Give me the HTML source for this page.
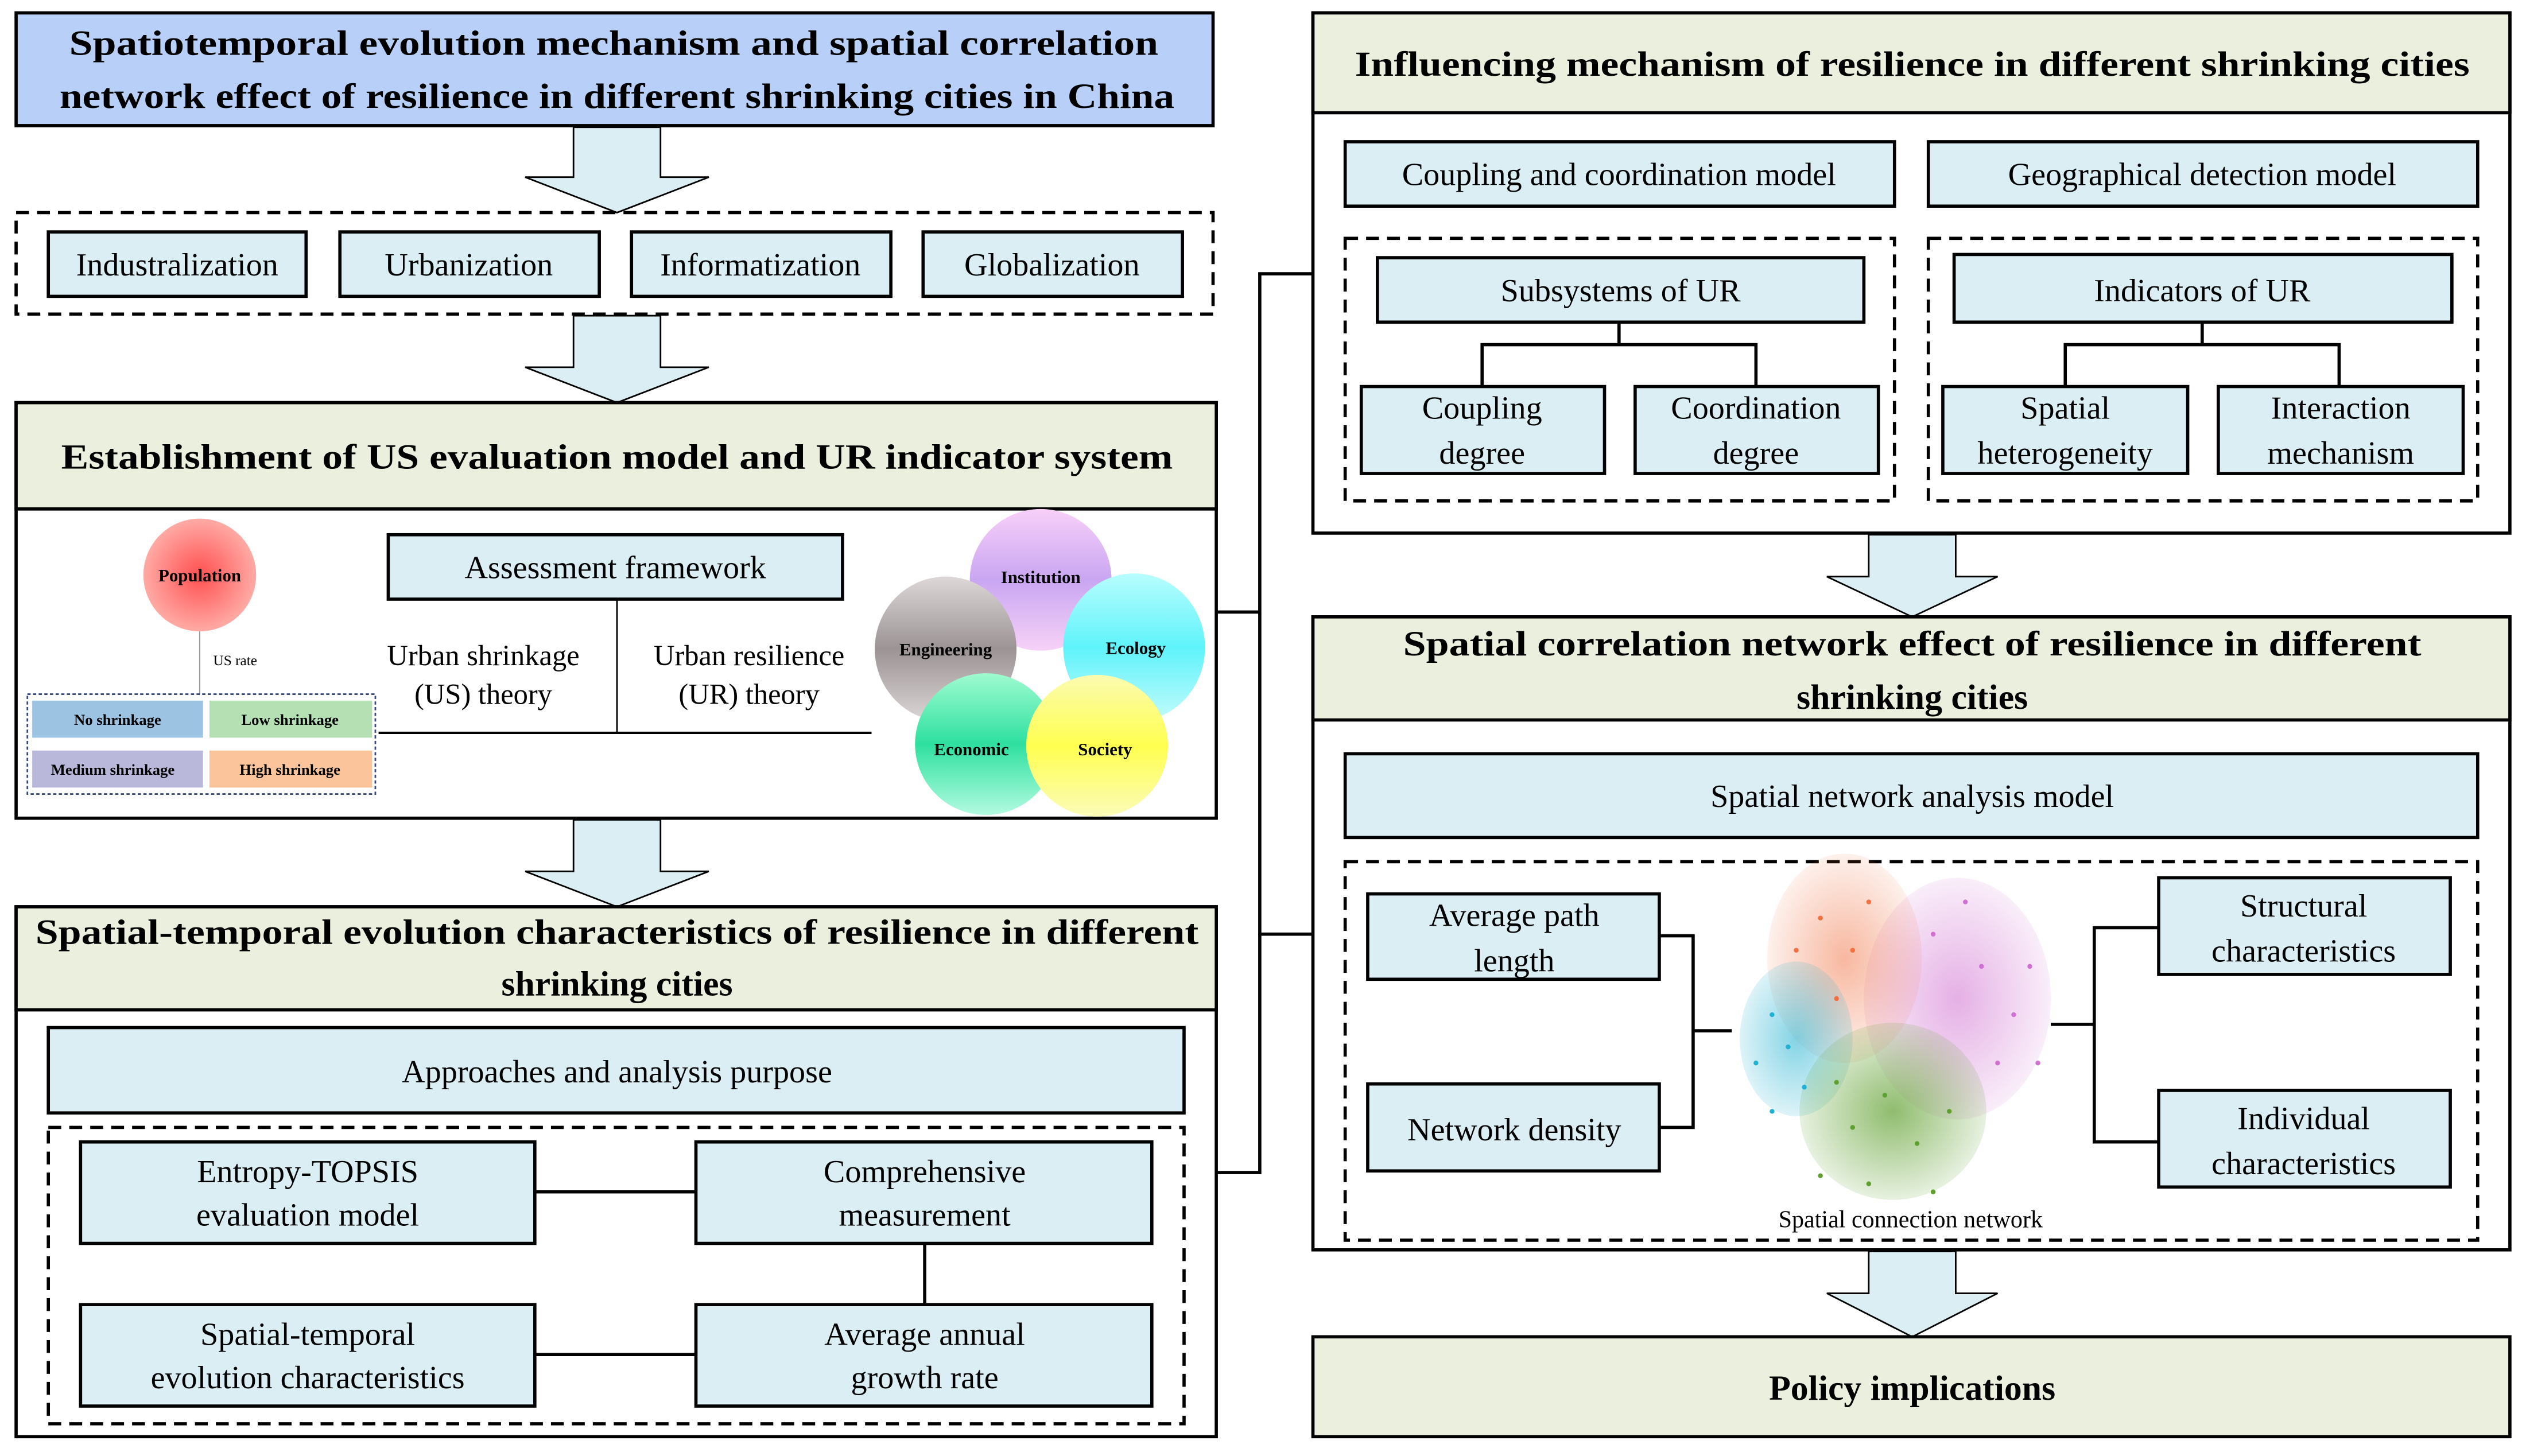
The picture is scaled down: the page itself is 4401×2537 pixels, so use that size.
<!DOCTYPE html>
<html><head><meta charset="utf-8"><style>html,body{margin:0;padding:0;background:#fff}svg{display:block}</style></head>
<body>
<svg width="4401" height="2537" viewBox="0 0 1568 904" preserveAspectRatio="none" xmlns="http://www.w3.org/2000/svg" font-family="'Liberation Serif', serif">
<defs>
<radialGradient id="gPop" cx="50%" cy="50%" r="50%"><stop offset="0" stop-color="#ff5050"/><stop offset="1" stop-color="#ffaaa5"/></radialGradient>
<linearGradient id="gInst" x1="0" y1="0" x2="0" y2="1"><stop offset="0" stop-color="#f8d0f8"/><stop offset=".5" stop-color="#c9a6f2"/><stop offset="1" stop-color="#f6d2f6"/></linearGradient>
<linearGradient id="gEco" x1="0" y1="0" x2="0" y2="1"><stop offset="0" stop-color="#b8fdfd"/><stop offset=".5" stop-color="#5ff3fb"/><stop offset="1" stop-color="#c3fbfb"/></linearGradient>
<linearGradient id="gEng" x1="0" y1="0" x2="0" y2="1"><stop offset="0" stop-color="#ddd7d7"/><stop offset=".5" stop-color="#9c9494"/><stop offset="1" stop-color="#ddd6d6"/></linearGradient>
<linearGradient id="gEcn" x1="0" y1="0" x2="0" y2="1"><stop offset="0" stop-color="#9ffbd0"/><stop offset=".5" stop-color="#2ee0a0"/><stop offset="1" stop-color="#b3fbe0"/></linearGradient>
<linearGradient id="gSoc" x1="0" y1="0" x2="0" y2="1"><stop offset="0" stop-color="#fbfbb0"/><stop offset=".5" stop-color="#ffff50"/><stop offset="1" stop-color="#fbfbb8"/></linearGradient>
<radialGradient id="nP"><stop offset="0" stop-color="#d070d0" stop-opacity=".55"/><stop offset="1" stop-color="#d070d0" stop-opacity=".12"/></radialGradient>
<radialGradient id="nO"><stop offset="0" stop-color="#f07040" stop-opacity=".5"/><stop offset="1" stop-color="#f07040" stop-opacity=".1"/></radialGradient>
<radialGradient id="nB"><stop offset="0" stop-color="#20b0d0" stop-opacity=".55"/><stop offset="1" stop-color="#20b0d0" stop-opacity=".15"/></radialGradient>
<radialGradient id="nG"><stop offset="0" stop-color="#60a030" stop-opacity=".7"/><stop offset="1" stop-color="#60a030" stop-opacity=".15"/></radialGradient>
</defs>
<g stroke="#000" stroke-width="2">
<rect x="10" y="8" width="743" height="70" fill="#b8cff8"/>
<g fill="#dbeef4" stroke="#000" stroke-width="1">
<polygon points="356,79 410,79 410,110 440,110 383,132 326,110 356,110"/>
<polygon points="356,196 410,196 410,228 440,228 383,250 326,228 356,228"/>
<polygon points="356,509 410,509 410,541 440,541 383,563 326,541 356,541"/>
<polygon points="1160,332 1214,332 1214,358 1240,358 1187,383 1134,358 1160,358"/>
<polygon points="1160,777 1214,777 1214,803 1240,803 1187,830 1134,803 1160,803"/>
</g>
<rect x="10" y="132" width="743" height="63" fill="none" stroke-dasharray="8,5"/>
<g fill="#dbeef4">
<rect x="30" y="144" width="160" height="40"/><rect x="211" y="144" width="161" height="40"/>
<rect x="392" y="144" width="161" height="40"/><rect x="573" y="144" width="161" height="40"/>
</g>
<rect x="10" y="250" width="745" height="258" fill="#fff"/>
<rect x="10" y="250" width="745" height="66" fill="#ebf0de"/>
<rect x="241" y="332" width="282" height="40" fill="#dbeef4"/>
<line x1="383" y1="372" x2="383" y2="455" stroke-width="1"/>
<line x1="235" y1="455" x2="541" y2="455" stroke-width="1.5"/>
<rect x="10" y="563" width="745" height="329" fill="#fff"/>
<rect x="10" y="563" width="745" height="64" fill="#ebf0de"/>
<rect x="30" y="638" width="705" height="53" fill="#dbeef4"/>
<rect x="30" y="700" width="705" height="184" fill="none" stroke-dasharray="8,5"/>
<g fill="#dbeef4">
<rect x="50" y="709" width="282" height="63"/><rect x="432" y="709" width="283" height="63"/>
<rect x="50" y="810" width="282" height="63"/><rect x="432" y="810" width="283" height="63"/>
</g>
<line x1="332" y1="740" x2="432" y2="740"/><line x1="574" y1="772" x2="574" y2="810"/><line x1="332" y1="841" x2="432" y2="841"/>
<polyline points="815,170 782,170 782,728 755,728" fill="none"/>
<line x1="755" y1="380" x2="782" y2="380"/><line x1="782" y1="580" x2="815" y2="580"/>
<rect x="815" y="8" width="743" height="323" fill="#fff"/>
<rect x="815" y="8" width="743" height="62" fill="#ebf0de"/>
<g fill="#dbeef4">
<rect x="835" y="88" width="341" height="40"/><rect x="1197" y="88" width="341" height="40"/>
</g>
<rect x="835" y="148" width="341" height="163" fill="none" stroke-dasharray="8,5"/>
<rect x="1197" y="148" width="341" height="163" fill="none" stroke-dasharray="8,5"/>
<g fill="#dbeef4">
<rect x="855" y="160" width="302" height="40"/><rect x="845" y="240" width="151" height="54"/><rect x="1015" y="240" width="151" height="54"/>
<rect x="1213" y="158" width="309" height="42"/><rect x="1206" y="240" width="152" height="54"/><rect x="1377" y="240" width="152" height="54"/>
</g>
<polyline points="920,240 920,214 1090,214 1090,240" fill="none"/><line x1="1005" y1="200" x2="1005" y2="214"/>
<polyline points="1282,240 1282,214 1452,214 1452,240" fill="none"/><line x1="1367" y1="200" x2="1367" y2="214"/>
<rect x="815" y="383" width="743" height="393" fill="#fff"/>
<rect x="815" y="383" width="743" height="64" fill="#ebf0de"/>
<rect x="835" y="468" width="703" height="52" fill="#dbeef4"/>
<rect x="835" y="535" width="703" height="235" fill="none" stroke-dasharray="8,5"/>
<g fill="#dbeef4">
<rect x="849" y="555" width="181" height="53"/><rect x="849" y="673" width="181" height="54"/>
<rect x="1340" y="545" width="181" height="60"/><rect x="1340" y="677" width="181" height="60"/>
</g>
<polyline points="1030,581 1051,581 1051,700 1030,700" fill="none"/><line x1="1051" y1="640" x2="1075" y2="640"/>
<polyline points="1340,576 1300,576 1300,709 1340,709" fill="none"/><line x1="1273" y1="636" x2="1300" y2="636"/>
<rect x="815" y="830" width="743" height="62" fill="#ebf0de"/>
</g>
<!-- network -->
<g stroke="none">
<ellipse cx="1215" cy="620" rx="58" ry="75" fill="url(#nP)"/>
<ellipse cx="1145" cy="595" rx="48" ry="65" fill="url(#nO)"/>
<ellipse cx="1115" cy="645" rx="35" ry="48" fill="url(#nB)"/>
<ellipse cx="1175" cy="690" rx="58" ry="55" fill="url(#nG)"/>
</g>
<g fill="#60a030">
<circle cx="1150" cy="700" r="1.5"/><circle cx="1170" cy="680" r="1.5"/><circle cx="1190" cy="710" r="1.5"/><circle cx="1130" cy="730" r="1.5"/><circle cx="1160" cy="735" r="1.5"/><circle cx="1200" cy="740" r="1.5"/><circle cx="1140" cy="672" r="1.5"/><circle cx="1210" cy="690" r="1.5"/>
</g>
<g fill="#d070d0">
<circle cx="1200" cy="580" r="1.5"/><circle cx="1230" cy="600" r="1.5"/><circle cx="1250" cy="630" r="1.5"/><circle cx="1220" cy="560" r="1.5"/><circle cx="1260" cy="600" r="1.5"/><circle cx="1240" cy="660" r="1.5"/><circle cx="1265" cy="660" r="1.5"/>
</g>
<g fill="#f07040">
<circle cx="1130" cy="570" r="1.5"/><circle cx="1150" cy="590" r="1.5"/><circle cx="1115" cy="590" r="1.5"/><circle cx="1160" cy="560" r="1.5"/><circle cx="1140" cy="620" r="1.5"/>
</g>
<g fill="#20b0d0">
<circle cx="1100" cy="630" r="1.5"/><circle cx="1090" cy="660" r="1.5"/><circle cx="1110" cy="650" r="1.5"/><circle cx="1120" cy="675" r="1.5"/><circle cx="1100" cy="690" r="1.5"/>
</g>
<circle cx="124" cy="357" r="35" fill="url(#gPop)"/>
<line x1="124" y1="392" x2="124" y2="431" stroke="#888" stroke-width=".6"/>
<rect x="17" y="431" width="216" height="62" fill="none" stroke="#3a4a7a" stroke-width="1" stroke-dasharray="2,1.5"/>
<rect x="20" y="435" width="106" height="23" fill="#9dc3e3"/><rect x="130" y="435" width="101" height="23" fill="#b5e0b3"/>
<rect x="20" y="466" width="106" height="23" fill="#bab8da"/><rect x="130" y="466" width="101" height="23" fill="#fcc49a"/>
<ellipse cx="646" cy="360" rx="44" ry="44" fill="url(#gInst)"/>
<ellipse cx="704" cy="402" rx="44" ry="46" fill="url(#gEco)"/>
<ellipse cx="587" cy="403" rx="44" ry="45" fill="url(#gEng)"/>
<ellipse cx="612" cy="462" rx="44" ry="44" fill="url(#gEcn)"/>
<ellipse cx="681" cy="463" rx="44" ry="44" fill="url(#gSoc)"/>
<g font-weight="bold" font-size="22" text-anchor="middle" fill="#000">
<text x="381" y="34" textLength="676" lengthAdjust="spacingAndGlyphs">Spatiotemporal evolution mechanism and spatial correlation</text>
<text x="383" y="67" textLength="692" lengthAdjust="spacingAndGlyphs">network effect of resilience in different shrinking cities in China</text>
<text x="383" y="291" textLength="690" lengthAdjust="spacingAndGlyphs">Establishment of US evaluation model and UR indicator system</text>
<text x="383" y="586" textLength="722" lengthAdjust="spacingAndGlyphs">Spatial-temporal evolution characteristics of resilience in different</text>
<text x="383" y="618">shrinking cities</text>
<text x="1187" y="47" textLength="692" lengthAdjust="spacingAndGlyphs">Influencing mechanism of resilience in different shrinking cities</text>
<text x="1187" y="407" textLength="632" lengthAdjust="spacingAndGlyphs">Spatial correlation network effect of resilience in different</text>
<text x="1187" y="440">shrinking cities</text>
<text x="1187" y="869">Policy implications</text>
</g>
<g font-size="20" text-anchor="middle" fill="#000">
<text x="110" y="171">Industralization</text><text x="291" y="171">Urbanization</text>
<text x="472" y="171">Informatization</text><text x="653" y="171">Globalization</text>
<text x="382" y="359">Assessment framework</text>
<text x="300" y="413" font-size="18">Urban shrinkage</text><text x="300" y="437" font-size="18">(US) theory</text>
<text x="465" y="413" font-size="18">Urban resilience</text><text x="465" y="437" font-size="18">(UR) theory</text>
<text x="383" y="672">Approaches and analysis purpose</text>
<text x="191" y="734">Entropy-TOPSIS</text><text x="191" y="761">evaluation model</text>
<text x="574" y="734">Comprehensive</text><text x="574" y="761">measurement</text>
<text x="191" y="835">Spatial-temporal</text><text x="191" y="862">evolution characteristics</text>
<text x="574" y="835">Average annual</text><text x="574" y="862">growth rate</text>
<text x="1005" y="115">Coupling and coordination model</text>
<text x="1367" y="115">Geographical detection model</text>
<text x="1006" y="187">Subsystems of UR</text>
<text x="920" y="260">Coupling</text><text x="920" y="288">degree</text>
<text x="1090" y="260">Coordination</text><text x="1090" y="288">degree</text>
<text x="1367" y="187">Indicators of UR</text>
<text x="1282" y="260">Spatial</text><text x="1282" y="288">heterogeneity</text>
<text x="1453" y="260">Interaction</text><text x="1453" y="288">mechanism</text>
<text x="1187" y="501">Spatial network analysis model</text>
<text x="940" y="575">Average path</text><text x="940" y="603">length</text>
<text x="940" y="708">Network density</text>
<text x="1430" y="569">Structural</text><text x="1430" y="597">characteristics</text>
<text x="1430" y="701">Individual</text><text x="1430" y="729">characteristics</text>
<text x="1186" y="762" font-size="15">Spatial connection network</text>
</g>
<g font-size="11" font-weight="bold" text-anchor="middle" fill="#000">
<text x="124" y="361">Population</text>
<text x="646" y="362">Institution</text><text x="705" y="406">Ecology</text>
<text x="587" y="407">Engineering</text><text x="603" y="469">Economic</text><text x="686" y="469">Society</text>
<text x="73" y="450" font-size="9.5">No shrinkage</text><text x="180" y="450" font-size="9.5">Low shrinkage</text>
<text x="70" y="481" font-size="9.5">Medium shrinkage</text><text x="180" y="481" font-size="9.5">High shrinkage</text>
<text x="146" y="413" font-size="9" font-weight="normal">US rate</text>
</g>
</svg>
</body></html>
